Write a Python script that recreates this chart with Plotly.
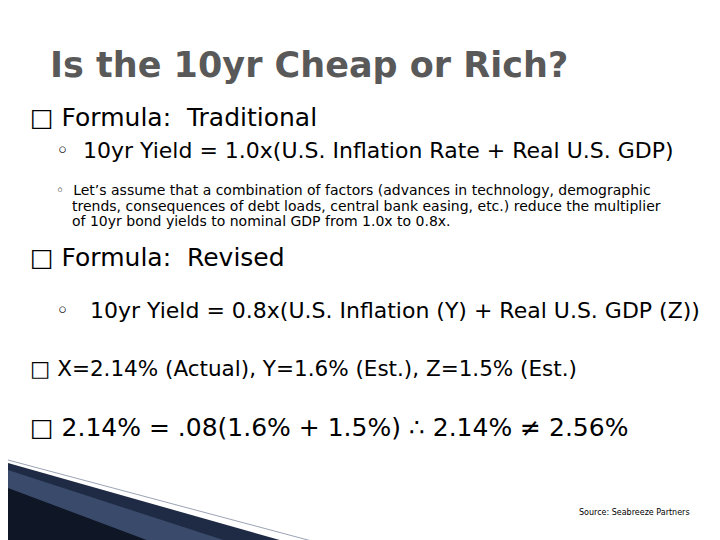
import plotly.graph_objects as go

title = "Is the 10yr Cheap or Rich?"
lines = [
    (20, 117, "\u25a1 Formula:  Traditional", 25),
    (46, 150, "\u25e6  10yr Yield = 1.0x(U.S. Inflation Rate + Real U.S. GDP)", 22),
    (46, 190, "\u25e6  Let\u2019s assume that a combination of factors (advances in technology, demographic", 14),
    (62, 205.5, "trends, consequences of debt loads, central bank easing, etc.) reduce the multiplier", 14),
    (62, 221, "of 10yr bond yields to nominal GDP from 1.0x to 0.8x.", 14),
    (20, 257, "\u25a1 Formula:  Revised", 25),
    (46, 310, "\u25e6   10yr Yield = 0.8x(U.S. Inflation (Y) + Real U.S. GDP (Z))", 22),
    (20, 368, "\u25a1 X=2.14% (Actual), Y=1.6% (Est.), Z=1.5% (Est.)", 21.5),
    (20, 427, "\u25a1 2.14% = .08(1.6% + 1.5%) \u2234 2.14% \u2260 2.56%", 25),
]
source = "Source: Seabreeze Partners"
DY = -8

fig = go.Figure()
fig.update_xaxes(range=[0, 720], visible=False)
fig.update_yaxes(range=[540, 0], visible=False)
fig.update_layout(width=720, height=540, margin=dict(l=0, r=0, t=0, b=0),
                  paper_bgcolor="white", plot_bgcolor="white", showlegend=False)

fig.add_annotation(x=40, y=65 + DY, text="<b>" + title + "</b>", showarrow=False, xanchor="left", yanchor="middle",
                   font=dict(family="DejaVu Sans", size=35, color="#595959"))
for x, y, t, s in lines:
    fig.add_annotation(x=x, y=y + DY, text=t, showarrow=False, xanchor="left", yanchor="middle",
                       font=dict(family="DejaVu Sans", size=s, color="#000"))
fig.add_annotation(x=684, y=512 + DY, text=source, showarrow=False, xanchor="right", yanchor="middle",
                   font=dict(family="DejaVu Sans", size=8, color="#000"))

# bottom-left decoration
fig.add_shape(type="path", path="M0,455 L300,540 L0,540 Z", fillcolor="#1f2a44", line_width=0, layer="below")
fig.add_shape(type="path", path="M0,462 L240,540 L0,540 Z", fillcolor="#3a4a6b", line_width=0, layer="below")
fig.add_shape(type="path", path="M0,480 L160,540 L0,540 Z", fillcolor="#0f1626", line_width=0, layer="below")
fig.add_shape(type="line", x0=0, y0=452, x1=330, y1=540, line=dict(color="#9aa3b5", width=1))

fig.write_html("out.html")
